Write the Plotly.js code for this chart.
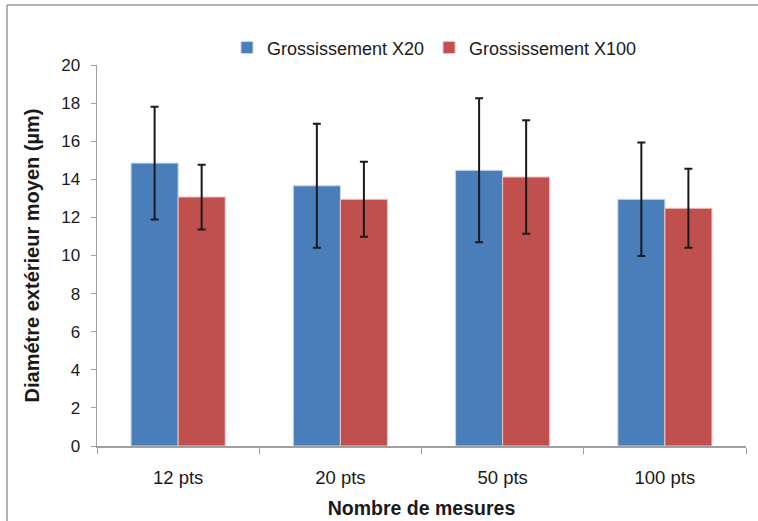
<!DOCTYPE html>
<html>
<head>
<meta charset="utf-8">
<script src="https://cdn.plot.ly/plotly-3.0.1.min.js"></script>
<style>html,body{margin:0;padding:0;background:#fff;}#chart{width:758px;height:521px;}</style>
</head>
<body>
<div id="chart"></div>
<script>
const categories = ["12 pts", "20 pts", "50 pts", "100 pts"];
const seriesNames = ["Grossissement X20", "Grossissement X100"];
const x20Values = [14.85, 13.66, 14.47, 12.95];
const x20Errors = [2.96, 3.25, 3.78, 2.98];
const x100Values = [13.07, 12.95, 14.12, 12.48];
const x100Errors = [1.70, 1.97, 2.98, 2.07];
const yTicks = [0, 2, 4, 6, 8, 10, 12, 14, 16, 18, 20];

const font = "Liberation Sans, Arial, sans-serif";

const traces = [
  {
    type: "bar", name: seriesNames[0], x: categories, y: x20Values,
    marker: {color: "#4a7ebb", line: {color: "#c6d6ea", width: 1}},
    error_y: {type: "data", array: x20Errors, visible: true, color: "#1a1a1a", thickness: 2, width: 4}
  },
  {
    type: "bar", name: seriesNames[1], x: categories, y: x100Values,
    marker: {color: "#c0504d", line: {color: "#edc3c2", width: 1}},
    error_y: {type: "data", array: x100Errors, visible: true, color: "#1a1a1a", thickness: 2, width: 4}
  }
];

const layout = {
  width: 758, height: 521,
  margin: {l: 97, r: 12, t: 65, b: 75},
  paper_bgcolor: "#fff", plot_bgcolor: "#fff",
  font: {family: font, size: 17, color: "#1a1a1a"},
  barmode: "group", bargap: 0.42, bargroupgap: 0,
  showlegend: true,
  legend: {orientation: "h", x: 0.52, xanchor: "center", y: 1.045, yanchor: "middle",
           font: {family: font, size: 18, color: "#1a1a1a"}, itemwidth: 30, tracegroupgap: 0},
  xaxis: {
    type: "category", tickson: "boundaries", ticks: "outside", ticklen: 6, tickcolor: "#a0a0a0",
    showline: true, linecolor: "#a0a0a0", linewidth: 1.5, showgrid: false, zeroline: false,
    tickfont: {family: font, size: 18.5, color: "#1a1a1a"}, ticklabelstandoff: 14,
    title: {text: "Nombre de mesures", font: {family: font, size: 19.5, color: "#1a1a1a", weight: "bold"}, standoff: 14}
  },
  yaxis: {
    range: [0, 20], tickvals: yTicks, ticktext: yTicks.map(String),
    ticks: "outside", ticklen: 5, tickcolor: "#a0a0a0",
    showline: true, linecolor: "#a0a0a0", linewidth: 1.5, showgrid: false, zeroline: false,
    tickfont: {family: font, size: 17, color: "#1a1a1a"}, ticklabelstandoff: 7,
    title: {text: "Diamétre extérieur moyen (µm)", font: {family: font, size: 20, color: "#1a1a1a", weight: "bold"}, standoff: 16}
  },
  shapes: [
    {type: "line", xref: "paper", yref: "paper", x0: -0.1387, x1: 1.03, y0: 1.1575, y1: 1.1575, line: {color: "#9a9a9a", width: 1.5}},
    {type: "line", xref: "paper", yref: "paper", x0: -0.1387, x1: -0.1387, y0: 1.1575, y1: -0.21, line: {color: "#9a9a9a", width: 1.5}}
  ]
};

Plotly.newPlot("chart", traces, layout, {displayModeBar: false, staticPlot: true});
</script>
</body>
</html>
